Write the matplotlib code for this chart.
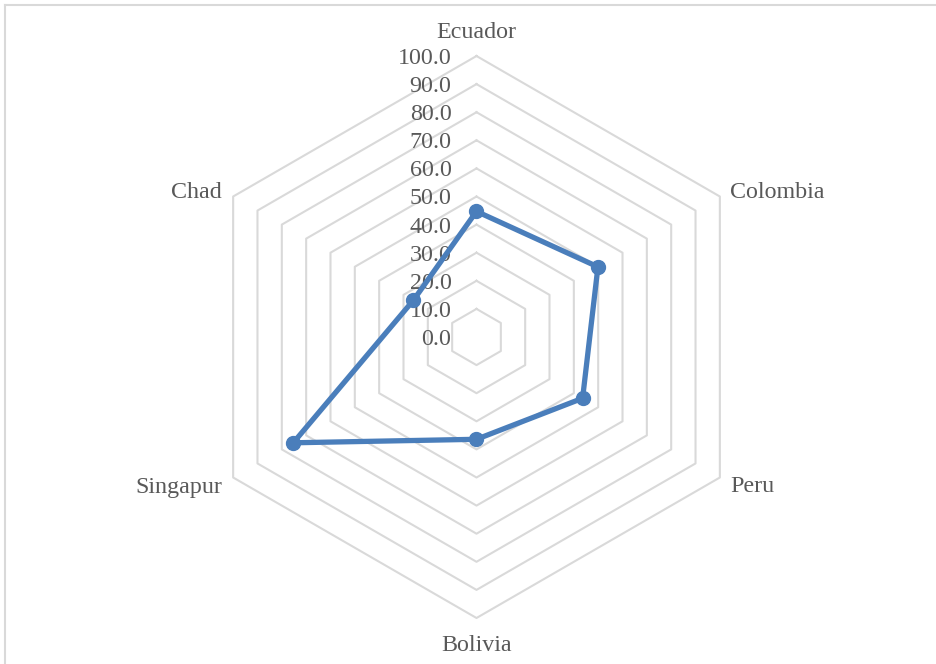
import numpy as np
import matplotlib
matplotlib.use("Agg")
import matplotlib.pyplot as plt
from matplotlib.lines import Line2D

categories = ["Ecuador", "Colombia", "Peru", "Bolivia", "Singapur", "Chad"]
values = [44.7, 49.9, 43.6, 36.4, 75.3, 26.0]
ring_values = [0, 10, 20, 30, 40, 50, 60, 70, 80, 90, 100]
tick_labels = ["0.0", "10.0", "20.0", "30.0", "40.0", "50.0", "60.0", "70.0", "80.0", "90.0", "100.0"]

plt.rcParams['font.family'] = ['Liberation Serif', 'DejaVu Serif']
TEXT = "#595959"
GRID = "#d9d9d9"
LINE = "#4a7ebb"
FS = 17.3

W, H = 937, 664
fig = plt.figure(figsize=(W / 100, H / 100), dpi=100)
cx, cy, R = 476.5, H - 337.0, 281.0
ax = fig.add_axes([(cx - R) / W, (cy - R) / H, 2 * R / W, 2 * R / H], projection='polar')
ax.set_theta_zero_location('N')
ax.set_theta_direction(-1)
ax.set_ylim(0, 100)
ax.grid(False)
ax.spines['polar'].set_visible(False)
ax.set_xticks([])
ax.set_yticks([])
ax.patch.set_alpha(0)

n = len(categories)
theta = np.deg2rad(np.arange(n) * 360.0 / n)
theta_c = np.append(theta, theta[0])

# hexagonal gridlines
for rv in ring_values[1:]:
    ax.plot(theta_c, [rv] * (n + 1), color=GRID, lw=1.5, zorder=1, clip_on=False)

# data series
vals_c = values + values[:1]
ax.plot(theta_c, vals_c, color=LINE, lw=3.8, zorder=3, clip_on=False,
        solid_joinstyle='round')
ax.plot(theta, values, 'o', color=LINE, ms=10, zorder=4, clip_on=False)

# value axis labels
for rv, lab in zip(ring_values, tick_labels):
    ax.annotate(lab, xy=(0, rv), xytext=(-25, -2.5), textcoords='offset pixels',
                ha='right', va='center', fontsize=FS, color=TEXT, zorder=2,
                annotation_clip=False)

# category labels
offsets = [(0, 23.5, 'center'), (10, 4.5, 'left'), (10, -9.5, 'left'),
           (0, -27.5, 'center'), (-11, -9.5, 'right'), (-11, 4.5, 'right')]
for t, lab, (dx, dy, ha) in zip(theta, categories, offsets):
    ax.annotate(lab, xy=(t, 100), xytext=(dx, dy), textcoords='offset pixels',
                ha=ha, va='center', fontsize=FS, color=TEXT, annotation_clip=False)

# chart border
fig.add_artist(Line2D([5 / W, 1.01], [1 - 5 / H, 1 - 5 / H], transform=fig.transFigure,
                      color=GRID, lw=1.5))
fig.add_artist(Line2D([5 / W, 5 / W], [-0.01, 1 - 5 / H], transform=fig.transFigure,
                      color=GRID, lw=1.5))

fig.savefig("out.png", dpi=100, facecolor="white")
